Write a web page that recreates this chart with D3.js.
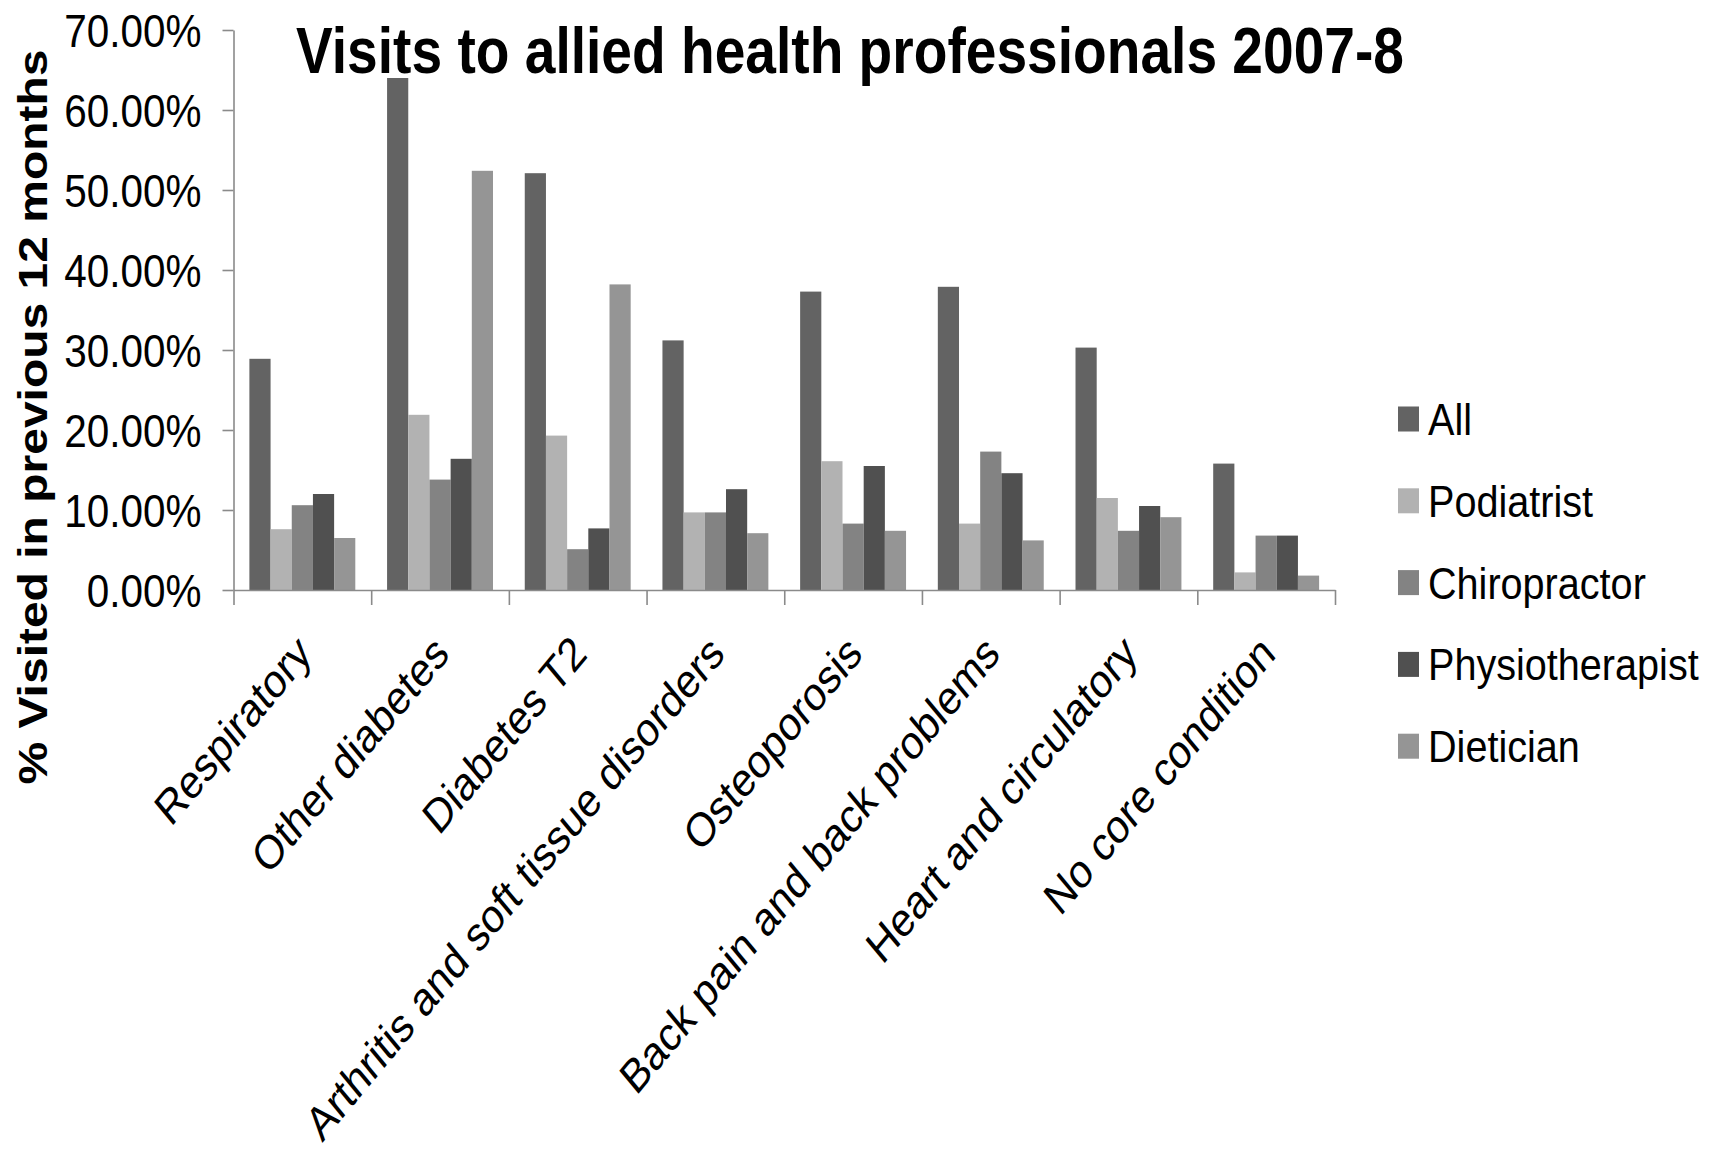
<!DOCTYPE html>
<html>
<head>
<meta charset="utf-8">
<script src="https://cdn.jsdelivr.net/npm/d3@7"></script>
<style>
  html, body { margin: 0; padding: 0; background: #fff; }
  svg { display: block; }
  text { font-family: "Liberation Sans", Arial, sans-serif; }
</style>
</head>
<body>
<svg id="chart" width="1720" height="1160"></svg>
<script>
// ---- Data ----
const categories = ["Respiratory", "Other diabetes", "Diabetes T2", "Arthritis and soft tissue disorders",
  "Osteoporosis", "Back pain and back problems", "Heart and circulatory", "No core condition"];
const seriesNames = ["All", "Podiatrist", "Chiropractor", "Physiotherapist", "Dietician"];
const allValues          = [28.9, 64.0, 52.1, 31.2, 37.3, 37.9, 30.3, 15.8];
const podiatristValues   = [7.6, 21.9, 19.3, 9.7, 16.1, 8.3, 11.5, 2.2];
const chiropractorValues = [10.6, 13.8, 5.1, 9.7, 8.3, 17.3, 7.4, 6.8];
const physioValues       = [12.0, 16.4, 7.7, 12.6, 15.5, 14.6, 10.5, 6.8];
const dieticianValues    = [6.5, 52.4, 38.2, 7.1, 7.4, 6.2, 9.1, 1.8];
const yTicks = [0, 0.1, 0.2, 0.3, 0.4, 0.5, 0.6, 0.7];
const colors = ["#636363", "#b2b2b2", "#838383", "#505050", "#959595"];
const titleText = "Visits to allied health professionals 2007-8";
const yTitleText = "% Visited in previous 12 months";

const seriesValues = [allValues, podiatristValues, chiropractorValues, physioValues, dieticianValues];

// ---- Layout ----
const svg = d3.select("#chart");
const plotLeft = 233.5, plotRight = 1335, plotTop = 30, plotBottom = 590;
const axisColor = "#8a8a8a";
const squeeze = 0.88;

function compress(sel, f) {
  sel.each(function () {
    const w = this.getComputedTextLength();
    d3.select(this).attr("textLength", w * f).attr("lengthAdjust", "spacingAndGlyphs");
  });
}

const y = d3.scaleLinear().domain([0, 0.7]).range([plotBottom, plotTop]);
const x0 = d3.scaleBand().domain(categories).range([plotLeft, plotRight]).paddingInner(0).paddingOuter(0);
const x1 = d3.scaleBand().domain(seriesNames).range([0, x0.bandwidth()]).paddingInner(0).paddingOuter(0.75);
const xEdge = d3.scaleLinear().domain([0, categories.length]).range([plotLeft, plotRight]);

// Bars
const groups = svg.append("g").selectAll("g")
  .data(categories)
  .join("g")
  .attr("transform", d => `translate(${x0(d)},0)`);

groups.selectAll("rect")
  .data((d, i) => seriesNames.map((s, j) => ({ s, j, v: seriesValues[j][i] / 100 })))
  .join("rect")
  .attr("x", d => x1(d.s))
  .attr("width", x1.bandwidth())
  .attr("y", d => y(d.v))
  .attr("height", d => plotBottom - y(d.v))
  .attr("fill", d => colors[d.j]);

// Y axis
const yAxis = svg.append("g")
  .attr("transform", `translate(${plotLeft},0)`)
  .call(d3.axisLeft(y).tickValues(yTicks).tickFormat(d3.format(".2%")).tickSize(11).tickSizeOuter(0).tickPadding(21));
yAxis.select(".domain").attr("stroke", axisColor).attr("stroke-width", 1.6);
yAxis.selectAll(".tick line").attr("stroke", axisColor).attr("stroke-width", 1.6);
yAxis.selectAll(".tick text")
  .attr("font-size", 46)
  .attr("font-family", "'Liberation Sans', Arial, sans-serif")
  .attr("fill", "#000")
  .attr("dy", "0.36em")
  .call(compress, squeeze);

// X axis (category boundaries)
const xAxis = svg.append("g")
  .attr("transform", `translate(0,${plotBottom})`)
  .call(d3.axisBottom(xEdge).tickValues(d3.range(categories.length + 1)).tickFormat("").tickSize(15).tickSizeOuter(0));
xAxis.select(".domain").attr("stroke", axisColor).attr("stroke-width", 1.6);
xAxis.selectAll(".tick line").attr("stroke", axisColor).attr("stroke-width", 1.6);

// X category labels
svg.append("g").selectAll("text")
  .data(categories)
  .join("text")
  .attr("transform", d => `translate(${x0(d) + x0.bandwidth() / 2 + 11},656) scale(0.83,1) rotate(-45)`)
  .attr("text-anchor", "end")
  .attr("font-size", 47.5)
  .attr("fill", "#000")
  .text(d => d);

// Title
svg.append("text")
  .attr("x", 850)
  .attr("y", 73)
  .attr("text-anchor", "middle")
  .attr("font-size", 65)
  .attr("font-weight", "bold")
  .attr("fill", "#000")
  .text(titleText)
  .attr("textLength", 1108)
  .attr("lengthAdjust", "spacingAndGlyphs");

// Y axis title
svg.append("text")
  .attr("transform", `translate(47,417) scale(0.85,1) rotate(-90)`)
  .attr("text-anchor", "middle")
  .attr("font-size", 48)
  .attr("font-weight", "bold")
  .attr("fill", "#000")
  .text(yTitleText);

// Legend
const legend = svg.append("g").selectAll("g")
  .data(seriesNames)
  .join("g")
  .attr("transform", (d, i) => `translate(1398,${419 + 81.8 * i})`);
legend.append("rect")
  .attr("x", 0).attr("y", -12.5).attr("width", 21).attr("height", 25)
  .attr("fill", (d, i) => colors[i]);
legend.append("text")
  .attr("transform", "translate(30,16) scale(0.88,1)")
  .attr("font-size", 45)
  .attr("fill", "#000")
  .text(d => d);
</script>
</body>
</html>
